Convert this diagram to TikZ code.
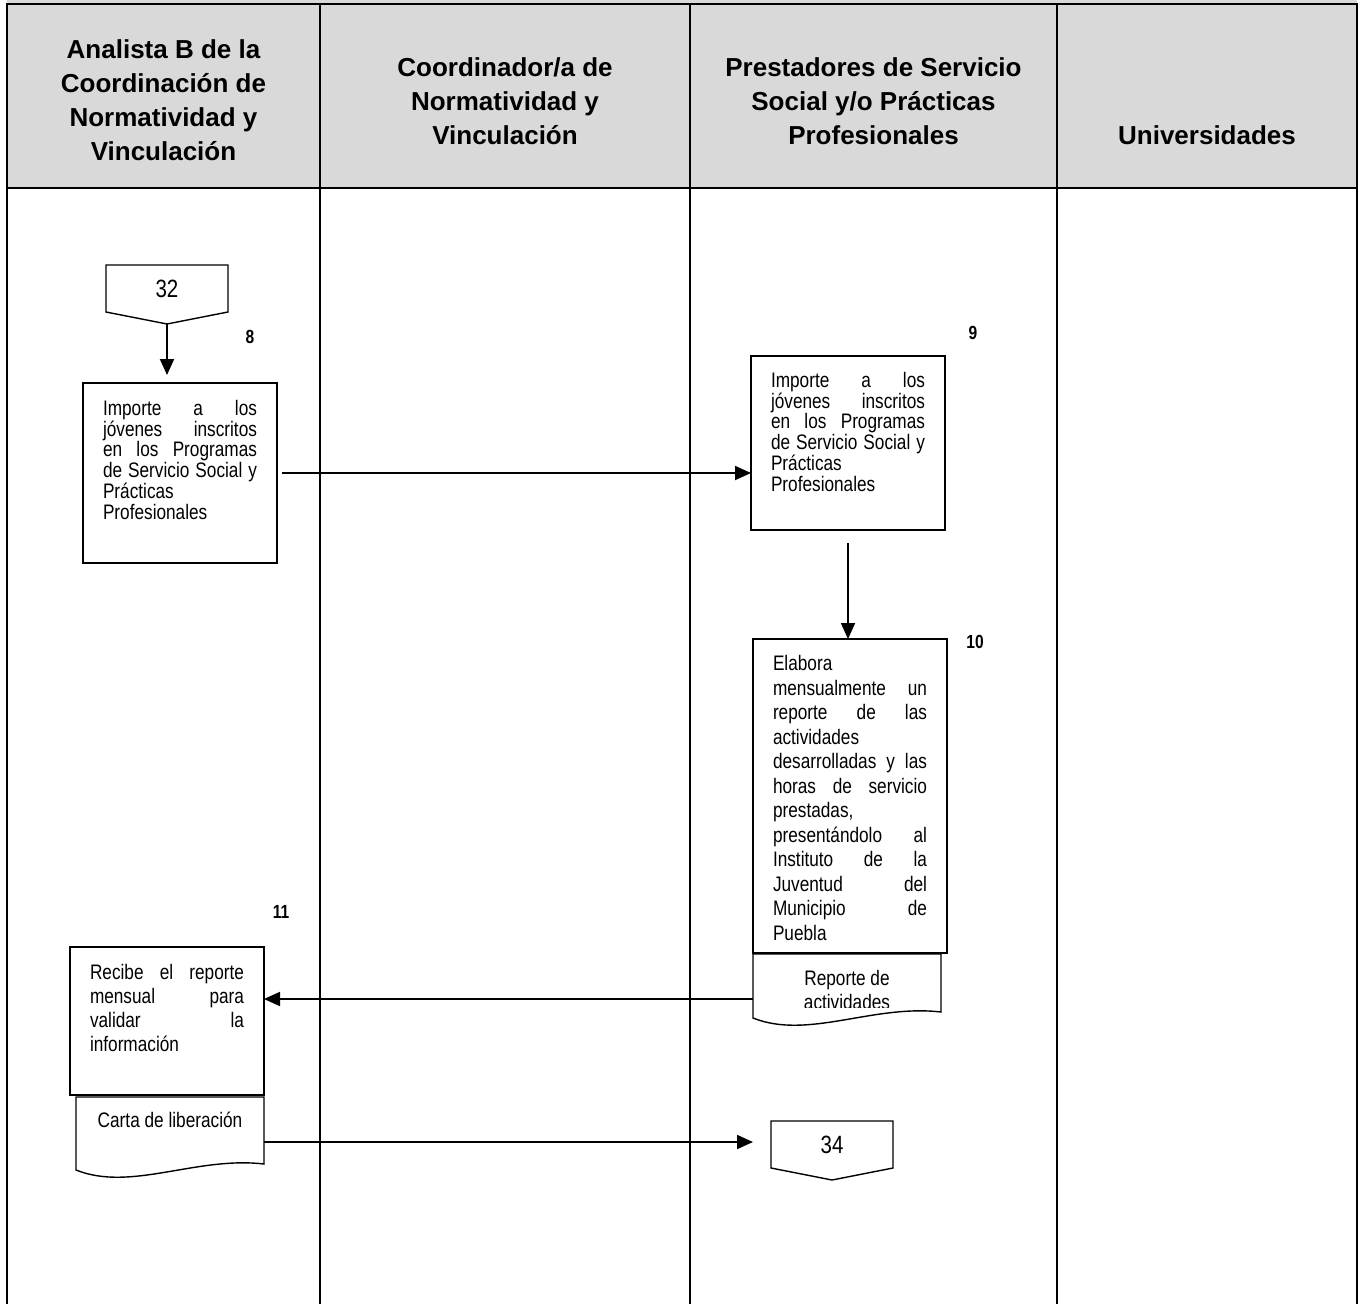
\documentclass[tikz,border=0pt]{standalone}
\usepackage{fontspec}
\setmainfont{Liberation Sans}
% condensed face for the body texts
\newfontfamily\narrowfont[FakeStretch=0.82]{Liberation Sans}
\usetikzlibrary{calc,arrows.meta}
\definecolor{headgray}{HTML}{D9D9D9}

% one justified line of a step text, and one left-aligned line
\newcommand\justline[1]{\hbox to\hsize{\spaceskip=.278em plus 1fil minus .08em\relax #1}}
\newcommand\plainline[1]{\hbox{#1}}
% text of a process box: fixed width, line pitch given as #1
\newcommand\steptext[2]{\parbox[t]{154pt}{\narrowfont\fontsize{21}{#1}\selectfont #2}}
% text of a document symbol
\newcommand\doctxt[1]{\parbox[t]{188pt}{\centering\narrowfont\fontsize{21}{24}\selectfont #1}}

\begin{document}
\begin{tikzpicture}[x=1pt,y=-1pt,
  lane/.style={line width=2pt, line cap=rect},
  headtext/.style={font=\bfseries\fontsize{26}{34}\selectfont, align=center, inner sep=0pt},
  stepbox/.style={draw, line width=1.4pt, inner xsep=20pt, inner ysep=0pt, outer sep=0pt, anchor=north west},
  doctext/.style={inner sep=0pt, outer sep=0pt, anchor=north west},
  docline/.style={line width=1.4pt},
  conn/.style={inner sep=0pt, outer sep=0pt, anchor=north west, minimum width=122pt, minimum height=47pt, font=\narrowfont\fontsize{25}{25}\selectfont},
  connline/.style={line width=1.4pt, line join=miter},
  steplabel/.style={font=\narrowfont\bfseries\fontsize{19}{19}\selectfont, inner sep=0pt},
  flow/.style={line width=1.9pt, -{Triangle[length=16pt,width=14pt]}}
]
\useasboundingbox (0,0) rectangle (1359,1303);

% swimlane header and lane borders
\fill[headgray] (7,0) rectangle (1357,188);
\draw[lane] (7,4) -- (1357,4);
\draw[lane] (7,188) -- (1357,188);
\foreach \x in {7,320,690,1057,1357} \draw[lane] (\x,4) -- (\x,1310);

\node[headtext] (h1) at (163.5,100.5) {Analista B de la\\Coordinación de\\Normatividad y\\Vinculación};
\node[headtext] (h2) at (505,101.5) {Coordinador/a de\\Normatividad y\\Vinculación};
\node[headtext] (h3) at (873.5,101.5) {Prestadores de Servicio\\Social y/o Prácticas\\Profesionales};
\node[headtext] (h4) at (1207,135) {Universidades};

% incoming off-page connector
\node[conn] (c32) at (106,265) {32};
\coordinate (c32tip) at ($(c32.south)+(0,12)$);
\draw[connline] (c32.north west) -- (c32.north east) -- (c32.south east) -- (c32tip) -- (c32.south west) -- cycle;

% step 8
\node[steplabel] (n8) at (250,337) {8};
\node[stepbox, text height=32.5pt, text depth=147.5pt] (b1) at (83,383) {\steptext{20.7pt}{%
  \justline{Importe a los}
  \justline{jóvenes inscritos}
  \justline{en los Programas}
  \justline{de Servicio Social y}
  \plainline{Prácticas}
  \plainline{Profesionales}}};
\draw[flow, shorten >=8pt] (c32tip) -- (c32tip |- b1.north);

% step 9
\node[steplabel] (n9) at (973,333) {9};
\node[stepbox, text height=31.5pt, text depth=142.5pt] (b9) at (751,356) {\steptext{20.7pt}{%
  \justline{Importe a los}
  \justline{jóvenes inscritos}
  \justline{en los Programas}
  \justline{de Servicio Social y}
  \plainline{Prácticas}
  \plainline{Profesionales}}};
\draw[flow, shorten <=5pt] (b1.east) -- (b9.west |- b1.east);

% step 10
\node[steplabel] (n10) at (975,642) {10};
\node[stepbox, text height=31.5pt, text depth=282.5pt] (b10) at (753,639) {\steptext{24.5pt}{%
  \plainline{Elabora}
  \justline{mensualmente un}
  \justline{reporte de las}
  \plainline{actividades}
  \justline{desarrolladas y las}
  \justline{horas de servicio}
  \plainline{prestadas,}
  \justline{presentándolo al}
  \justline{Instituto de la}
  \justline{Juventud del}
  \justline{Municipio de}
  \plainline{Puebla}}};
\draw[flow, shorten <=13pt] (b9.south) -- (b9.south |- b10.north);

% document produced in step 10
\begin{scope}
  \clip (753,954) rectangle (941,1007);
  \node[doctext, text height=31.5pt, text depth=58.5pt] (rep) at (753,954) {\doctxt{Reporte de\\actividades}};
\end{scope}
\draw[docline] (rep.north west) -- ($(rep.north west)+(0,64)$)
  .. controls ($(rep.north west)+(55,86)$) and ($(rep.north west)+(120,50)$) .. ($(rep.north east)+(0,58)$)
  -- (rep.north east) -- cycle;

% step 11
\node[steplabel] (n11) at (281,912) {11};
\node[stepbox, text height=32.5pt, text depth=115.5pt] (b11) at (70,947) {\steptext{24pt}{%
  \justline{Recibe el reporte}
  \justline{mensual para}
  \justline{validar la}
  \plainline{información}}};
\draw[flow] (rep.west) -- (b11.east |- rep.west);

% document produced in step 11
\node[doctext, text height=30.5pt, text depth=59.5pt] (carta) at (76,1097) {\doctxt{Carta de liberación}};
\draw[docline] (carta.north west) -- ($(carta.north west)+(0,73)$)
  .. controls ($(carta.north west)+(55,95)$) and ($(carta.north west)+(120,59)$) .. ($(carta.north east)+(0,67)$)
  -- (carta.north east) -- cycle;

% outgoing off-page connector
\node[conn] (c34) at (771,1121) {34};
\coordinate (c34tip) at ($(c34.south)+(0,12)$);
\draw[connline] (c34.north west) -- (c34.north east) -- (c34.south east) -- (c34tip) -- (c34.south west) -- cycle;
\draw[flow, shorten >=18pt] (carta.east) -- (c34.west |- carta.east);

\end{tikzpicture}
\end{document}
